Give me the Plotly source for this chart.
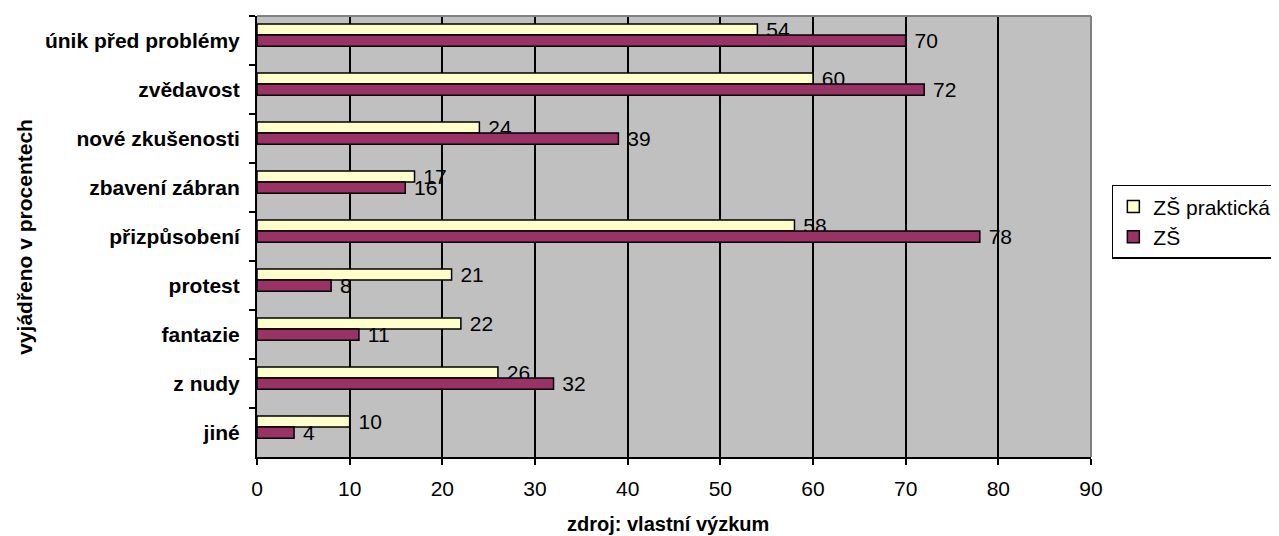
import plotly.graph_objects as go

categories = ["únik před problémy", "zvědavost", "nové zkušenosti", "zbavení zábran",
              "přizpůsobení", "protest", "fantazie", "z nudy", "jiné"]
zs_prakticka = [54, 60, 24, 17, 58, 21, 22, 26, 10]
zs = [70, 72, 39, 16, 78, 8, 11, 32, 4]
x_ticks = [0, 10, 20, 30, 40, 50, 60, 70, 80, 90]

FONT = "Liberation Sans, Arial, sans-serif"
FS = 21

fig = go.Figure()
fig.add_trace(go.Bar(
    y=categories, x=zs_prakticka, orientation="h", name="ZŠ praktická",
    marker=dict(color="#FFFFCC", line=dict(color="black", width=1.5)),
    width=0.225, offset=-0.335,
    texttemplate=" %{x}", textposition="outside",
    textfont=dict(family=FONT, size=FS, color="black"),
    constraintext="none", cliponaxis=False,
))
fig.add_trace(go.Bar(
    y=categories, x=zs, orientation="h", name="ZŠ",
    marker=dict(color="#993366", line=dict(color="black", width=1.5)),
    width=0.225, offset=-0.11,
    texttemplate=" %{x}", textposition="outside",
    textfont=dict(family=FONT, size=FS, color="black"),
    constraintext="none", cliponaxis=False,
))

fig.update_layout(
    width=1271, height=528,
    barmode="overlay",
    paper_bgcolor="white",
    plot_bgcolor="#C0C0C0",
    margin=dict(l=249, r=188, t=8, b=79, autoexpand=False),
    font=dict(family=FONT, size=FS, color="black"),
    showlegend=True,
    legend=dict(
        x=1.025, y=0.617, xanchor="left", yanchor="top",
        bgcolor="white", bordercolor="black", borderwidth=1.5,
        font=dict(family=FONT, size=21, color="black"),
        tracegroupgap=0, itemwidth=30,
    ),
    xaxis=dict(
        range=[0, 90], tickvals=x_ticks, ticktext=[str(v) for v in x_ticks],
        showgrid=True, gridcolor="black", gridwidth=1.5,
        showline=True, linecolor="black", linewidth=2,
        ticks="outside", ticklen=6, tickcolor="black", tickwidth=2,
        zeroline=False, tickfont=dict(family=FONT, size=FS),
        ticklabelstandoff=6,
    ),
    yaxis=dict(
        autorange="reversed", type="category",
        showgrid=False, showline=True, linecolor="black", linewidth=2,
        ticks="outside", ticklen=6, tickcolor="black", tickwidth=2,
        tickson="boundaries",
        tickfont=dict(family=FONT, size=FS, color="black", weight="bold"),
        ticklabelstandoff=11,
    ),
    shapes=[
        dict(type="line", xref="x domain", yref="y domain", x0=0, x1=1, y0=1, y1=1,
             line=dict(color="#808080", width=2), layer="above"),
        dict(type="line", xref="x domain", yref="y domain", x0=1, x1=1, y0=0, y1=1,
             line=dict(color="#808080", width=2), layer="above"),
    ],
    annotations=[
        dict(text="<b>zdroj: vlastní výzkum</b>", xref="paper", yref="paper",
             x=0.493, y=-0.152, yanchor="middle", xanchor="center", showarrow=False,
             font=dict(family=FONT, size=20)),
        dict(text="<b>vyjádřeno v procentech</b>", xref="paper", yref="paper",
             x=-0.279, y=0.5, xanchor="center", yanchor="middle", showarrow=False,
             textangle=-90, font=dict(family=FONT, size=21)),
    ],
)

fig.write_html("out.html")
